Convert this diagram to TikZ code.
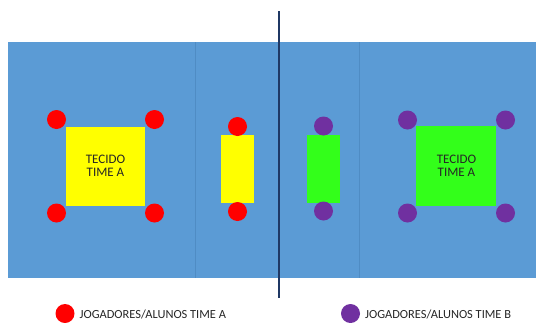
\documentclass[tikz,border=0pt]{standalone}
\usepackage{fontspec}
\setmainfont{Carlito}
\definecolor{field}{HTML}{5B9BD5}
\definecolor{fieldline}{HTML}{4F8CC4}
\definecolor{navy}{HTML}{1F3864}
\definecolor{teamA}{HTML}{FF0000}
\definecolor{teamB}{HTML}{7030A0}
\definecolor{clothA}{HTML}{FFFF00}
\definecolor{clothB}{HTML}{33FF1A}
\definecolor{txt}{HTML}{262626}
\tikzset{
  rectbox/.style={draw=none, inner sep=0pt, anchor=north west},
  playerA/.style={circle, fill=teamA, draw=none, minimum size=19pt, inner sep=0pt},
  playerB/.style={circle, fill=teamB, draw=none, minimum size=19pt, inner sep=0pt},
  labeltxt/.style={text=txt, font=\fontsize{13}{15}\selectfont, align=center},
  legendtxt/.style={text=txt, font=\fontsize{12.4}{14}\selectfont, anchor=west, inner sep=0pt}
}
\begin{document}
\begin{tikzpicture}[x=1pt,y=-1pt]
\useasboundingbox (0,0) rectangle (536,322);
% field
\node[rectbox, fill=field, minimum width=528pt, minimum height=236pt] (field) at (8,42) {};
\node[rectbox, fill=none, minimum width=0pt, minimum height=236pt] (divL) at (195,42) {};
\draw[fieldline, line width=0.6pt] (divL.north) -- (divL.south);
\node[rectbox, fill=none, minimum width=0pt, minimum height=236pt] (divR) at (359,42) {};
\draw[fieldline, line width=0.6pt] (divR.north) -- (divR.south);
% cloths
\node[rectbox, fill=clothA, minimum width=79pt, minimum height=79pt] (sqA) at (66,127) {};
\node[labeltxt] (txtA) at (105.5,165.5) {TECIDO\\[-2pt]TIME A};
\node[rectbox, fill=clothA, minimum width=33pt, minimum height=68pt] (smA) at (220.5,135) {};
\node[rectbox, fill=clothB, minimum width=33pt, minimum height=68pt] (smB) at (307,135) {};
\node[rectbox, fill=clothB, minimum width=80pt, minimum height=80pt] (sqB) at (416,126) {};
\node[labeltxt] (txtB) at (456.5,165.5) {TECIDO\\[-2pt]TIME A};
% players A
\node[playerA] (a1) at (56.5,119.5) {};
\node[playerA] (a2) at (154.5,119.5) {};
\node[playerA] (a3) at (56.5,213) {};
\node[playerA] (a4) at (154.5,213) {};
\node[playerA] (a5) at (237.5,126.5) {};
\node[playerA] (a6) at (237.5,211.5) {};
% players B
\node[playerB] (b1) at (407.5,120) {};
\node[playerB] (b2) at (505.5,120) {};
\node[playerB] (b3) at (407.5,213) {};
\node[playerB] (b4) at (505.5,213) {};
\node[playerB] (b5) at (323.5,126) {};
\node[playerB] (b6) at (323.5,211) {};
% center line
\coordinate (ltop) at (279,11);
\coordinate (lbot) at (279,298);
\draw[navy, line width=2pt] (ltop) -- (lbot);
% legend
\node[playerA] (legA) at (65,313.5) {};
\node[legendtxt] (legAt) at (79.5,314) {JOGADORES/ALUNOS TIME A};
\node[playerB] (legB) at (350.5,313.5) {};
\node[legendtxt] (legBt) at (365,314) {JOGADORES/ALUNOS TIME B};
\end{tikzpicture}
\end{document}
